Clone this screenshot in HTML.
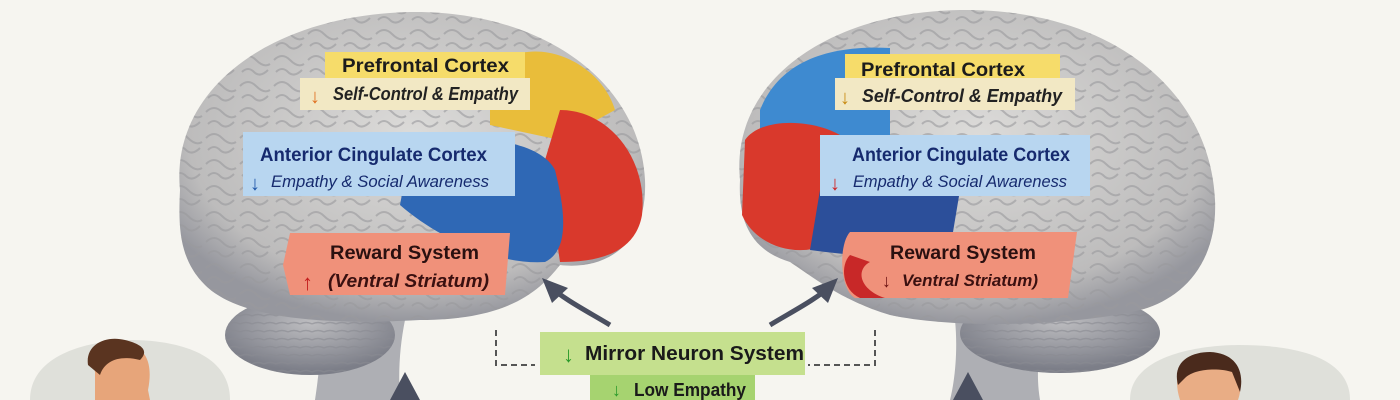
<!DOCTYPE html>
<html><head><meta charset="utf-8"><style>
html,body{margin:0;padding:0;width:1400px;height:400px;overflow:hidden;background:#f6f5f0;}
svg{display:block;}
svg text{font-family:"Liberation Sans",sans-serif;}
</style></head><body>
<svg width="1400" height="400" viewBox="0 0 1400 400" xmlns="http://www.w3.org/2000/svg">
<defs>
<radialGradient id="gb" cx="50%" cy="40%" r="60%"><stop offset="0" stop-color="#dcdbd9"/><stop offset="0.8" stop-color="#bdbcbc"/><stop offset="1" stop-color="#96979e"/></radialGradient>
<radialGradient id="cb" cx="50%" cy="35%" r="60%"><stop offset="0" stop-color="#bdbdc0"/><stop offset="1" stop-color="#7c7e88"/></radialGradient>
<pattern id="gy" width="34" height="26" patternUnits="userSpaceOnUse"><path d="M2 8 q8 -8 16 0 t14 4 M4 20 q6 -6 12 0 t14 -2" stroke="#9a9a9c" stroke-width="2" fill="none" opacity="0.6"/></pattern>
<pattern id="cs" width="12" height="8" patternUnits="userSpaceOnUse"><path d="M0 4 q6 -3 12 0" stroke="#8a8b92" stroke-width="1.5" fill="none"/></pattern>
</defs>

<path d="M30 400 C30 350 100 340 130 340 C170 340 230 350 230 400 Z" fill="#d9dbd5" opacity="0.8"/>
<path d="M1130 400 C1130 355 1200 345 1240 345 C1290 345 1350 355 1350 400 Z" fill="#d9dbd5" opacity="0.8"/>

<!-- LEFT BRAIN -->
<path d="M325 320 C320 360 318 380 315 400 L400 400 C398 370 400 345 405 320 Z" fill="#aeafb4"/>
<ellipse cx="310" cy="335" rx="85" ry="40" fill="url(#cb)"/>
<ellipse cx="310" cy="335" rx="85" ry="40" fill="url(#cs)" opacity="0.6"/>
<path d="M180 190 C170 90 270 15 410 12 C540 10 640 80 645 180 C648 250 600 270 560 265 C540 290 510 320 420 320 C330 325 240 320 205 285 C180 260 178 230 180 190 Z" fill="url(#gb)"/>
<path d="M180 190 C170 90 270 15 410 12 C540 10 640 80 645 180 C648 250 600 270 560 265 C540 290 510 320 420 320 C330 325 240 320 205 285 C180 260 178 230 180 190 Z" fill="url(#gy)"/>
<path d="M490 70 C530 30 600 60 615 110 L560 140 L490 125 Z" fill="#e9bd3a"/>
<path d="M560 110 C610 110 648 160 642 215 C635 255 595 262 560 262 L545 160 Z" fill="#d9392c"/>
<path d="M410 150 C470 130 540 140 555 170 C565 210 570 250 545 262 C500 265 440 240 400 205 Z" fill="#2f68b5"/>

<!-- RIGHT BRAIN -->
<path d="M955 320 C958 350 955 380 950 400 L1040 400 C1035 370 1040 345 1045 320 Z" fill="#aeafb4"/>
<ellipse cx="1060" cy="333" rx="100" ry="40" fill="url(#cb)"/>
<ellipse cx="1060" cy="333" rx="100" ry="40" fill="url(#cs)" opacity="0.6"/>
<path d="M740 180 C730 80 830 12 960 10 C1110 8 1210 90 1215 200 C1218 265 1180 300 1140 310 C1080 325 960 330 890 315 C840 300 810 275 790 262 C750 250 738 220 740 180 Z" fill="url(#gb)"/>
<path d="M740 180 C730 80 830 12 960 10 C1110 8 1210 90 1215 200 C1218 265 1180 300 1140 310 C1080 325 960 330 890 315 C840 300 810 275 790 262 C750 250 738 220 740 180 Z" fill="url(#gy)"/>
<path d="M760 110 C780 60 830 45 890 48 L890 135 L760 135 Z" fill="#3e8ad0"/>
<path d="M745 140 C760 118 810 118 840 135 L845 230 C820 262 760 255 742 215 Z" fill="#d9392c"/>
<path d="M820 190 L960 190 L950 250 C900 262 850 255 810 250 Z" fill="#2c4f9a"/>

<!-- LEFT LABELS -->
<rect x="325" y="52" width="200" height="27" fill="#f6dc6a"/>
<text x="342" y="72" font-size="19" font-weight="bold" fill="#1c1c1c" textLength="167" lengthAdjust="spacingAndGlyphs">Prefrontal Cortex</text>
<rect x="300" y="78" width="230" height="32" fill="#f2e8c4"/>
<text x="310" y="103" font-size="20" fill="#e07020" font-weight="bold">↓</text>
<text x="333" y="100" font-size="18" font-style="italic" font-weight="bold" fill="#222" textLength="185" lengthAdjust="spacingAndGlyphs">Self-Control &amp; Empathy</text>
<rect x="243" y="132" width="272" height="64" fill="#b8d6f0"/>
<text x="260" y="161" font-size="19" font-weight="bold" fill="#162a6e" textLength="227" lengthAdjust="spacingAndGlyphs">Anterior Cingulate Cortex</text>
<text x="250" y="190" font-size="20" fill="#1d55a8" font-weight="bold">↓</text>
<text x="271" y="187" font-size="17" font-style="italic" fill="#162a6e" textLength="218" lengthAdjust="spacingAndGlyphs">Empathy &amp; Social Awareness</text>
<path d="M290 233 L510 233 L505 295 L290 295 L283 265 Z" fill="#f0917a"/>
<text x="330" y="259" font-size="19" font-weight="bold" fill="#2a1010" textLength="149" lengthAdjust="spacingAndGlyphs">Reward System</text>
<text x="302" y="290" font-size="22" fill="#c41e1e" font-weight="bold">↑</text>
<text x="328" y="287" font-size="18" font-style="italic" font-weight="bold" fill="#3a1010" textLength="161" lengthAdjust="spacingAndGlyphs">(Ventral Striatum)</text>

<!-- RIGHT LABELS -->
<rect x="845" y="54" width="215" height="26" fill="#f6dc6a"/>
<text x="861" y="76" font-size="19" font-weight="bold" fill="#1c1c1c" textLength="164" lengthAdjust="spacingAndGlyphs">Prefrontal Cortex</text>
<rect x="835" y="78" width="240" height="32" fill="#f2e8c4"/>
<text x="840" y="104" font-size="20" fill="#c88a10" font-weight="bold">↓</text>
<text x="862" y="102" font-size="18" font-style="italic" font-weight="bold" fill="#222" textLength="200" lengthAdjust="spacingAndGlyphs">Self-Control &amp; Empathy</text>
<rect x="820" y="135" width="270" height="61" fill="#b8d6f0"/>
<text x="852" y="161" font-size="19" font-weight="bold" fill="#162a6e" textLength="218" lengthAdjust="spacingAndGlyphs">Anterior Cingulate Cortex</text>
<text x="830" y="190" font-size="20" fill="#d02020" font-weight="bold">↓</text>
<text x="853" y="187" font-size="17" font-style="italic" fill="#162a6e" textLength="214" lengthAdjust="spacingAndGlyphs">Empathy &amp; Social Awareness</text>
<path d="M850 232 L1077 232 L1068 298 L855 298 C840 290 838 245 850 232 Z" fill="#f0917a"/>
<path d="M850 255 C840 265 842 290 860 298 L885 298 C860 290 855 270 870 262 Z" fill="#c82828"/>
<text x="890" y="259" font-size="19" font-weight="bold" fill="#2a1010" textLength="146" lengthAdjust="spacingAndGlyphs">Reward System</text>
<text x="882" y="287" font-size="18" fill="#6a1010" font-weight="bold">↓</text>
<text x="902" y="286" font-size="17" font-style="italic" font-weight="bold" fill="#3a1010" textLength="136" lengthAdjust="spacingAndGlyphs">Ventral Striatum)</text>

<!-- connectors -->
<path d="M610 325 C585 310 565 300 548 285" stroke="#4a4f60" stroke-width="5" fill="none"/>
<polygon points="542,278 568,288 552,303" fill="#4a4f60"/>
<path d="M770 325 C795 310 815 300 832 285" stroke="#4a4f60" stroke-width="5" fill="none"/>
<polygon points="838,278 812,288 828,303" fill="#4a4f60"/>
<path d="M496 330 L496 365 L535 365" stroke="#555" stroke-width="2" stroke-dasharray="6,4" fill="none"/>
<path d="M875 330 L875 365 L808 365" stroke="#555" stroke-width="2" stroke-dasharray="6,4" fill="none"/>
<polygon points="405,372 390,400 420,400" fill="#4a4f60"/>
<polygon points="968,372 953,400 983,400" fill="#4a4f60"/>

<!-- center -->
<rect x="540" y="332" width="265" height="43" fill="#c5e08e"/>
<text x="563" y="362" font-size="22" fill="#2a9a2a" font-weight="bold">↓</text>
<text x="585" y="360" font-size="20" font-weight="bold" fill="#1a1a1a" textLength="219" lengthAdjust="spacingAndGlyphs">Mirror Neuron System</text>
<rect x="590" y="375" width="165" height="25" fill="#a6d370"/>
<text x="612" y="396" font-size="18" fill="#2a9a2a" font-weight="bold">↓</text>
<text x="634" y="396" font-size="18" font-weight="bold" fill="#1a1a1a" textLength="112" lengthAdjust="spacingAndGlyphs">Low Empathy</text>

<!-- people -->
<path d="M95 400 L95 372 C90 350 110 340 130 345 C150 350 152 370 148 390 L150 400 Z" fill="#e7a57a"/>
<path d="M88 365 C85 345 105 335 125 340 C145 345 148 352 140 360 C120 355 105 360 100 375 Z" fill="#5a3420"/>
<path d="M1180 400 C1172 375 1180 357 1210 355 C1238 357 1245 380 1238 400 Z" fill="#e9ad85"/>
<path d="M1178 385 C1172 362 1190 352 1210 352 C1235 353 1245 370 1240 392 L1232 372 C1220 368 1195 368 1185 378 Z" fill="#4a2a1c"/>
</svg>
</body></html>
